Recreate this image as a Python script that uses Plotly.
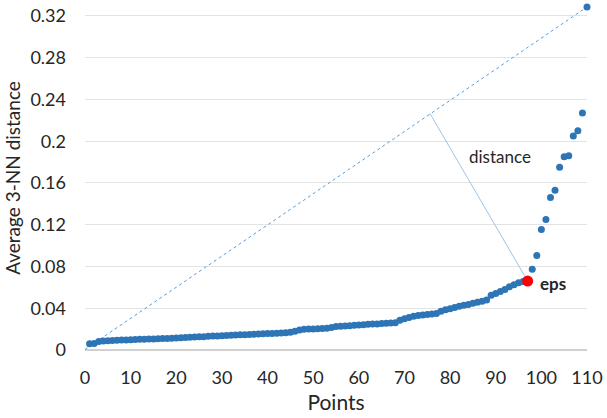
import plotly.graph_objects as go

points = list(range(1, 111))
avg_3nn = [
    0.0060, 0.0062, 0.0082, 0.0086, 0.0089, 0.0091, 0.0093, 0.0095, 0.0096, 0.0098,
    0.0100, 0.0102, 0.0103, 0.0105, 0.0106, 0.0108, 0.0110, 0.0111, 0.0113, 0.0115,
    0.0117, 0.0119, 0.0121, 0.0124, 0.0126, 0.0128, 0.0131, 0.0134, 0.0135, 0.0137,
    0.0139, 0.0141, 0.0143, 0.0145, 0.0147, 0.0149, 0.0151, 0.0153, 0.0155, 0.0157,
    0.0159, 0.0161, 0.0163, 0.0166, 0.0170, 0.0180, 0.0192, 0.0198, 0.0200, 0.0201,
    0.0203, 0.0205, 0.0208, 0.0216, 0.0225, 0.0228, 0.0230, 0.0232, 0.0236, 0.0240,
    0.0243, 0.0246, 0.0248, 0.0250, 0.0253, 0.0256, 0.0259, 0.0262, 0.0285, 0.0300,
    0.0312, 0.0324, 0.0330, 0.0336, 0.0340, 0.0344, 0.0350, 0.0370, 0.0385, 0.0395,
    0.0408, 0.0418, 0.0428, 0.0437, 0.0447, 0.0457, 0.0467, 0.0478, 0.0525, 0.0540,
    0.0560, 0.0580, 0.0605, 0.0625, 0.0645, 0.0655, 0.0660, 0.0774, 0.0905, 0.1155,
    0.1250, 0.1460, 0.1530, 0.1750, 0.1850, 0.1860, 0.2050, 0.2100, 0.2270, 0.3286,
]
eps_x = [97]
eps_y = [0.0660]
diag_x = [0, 110]
diag_y = [0.0005, 0.3286]
dist_x = [75.6, 97]
dist_y = [0.2265, 0.0660]
x_ticks = [0, 10, 20, 30, 40, 50, 60, 70, 80, 90, 100, 110]
y_ticks = [0, 0.04, 0.08, 0.12, 0.16, 0.2, 0.24, 0.28, 0.32]
y_tick_labels = ["0", "0.04", "0.08", "0.12", "0.16", "0.2", "0.24", "0.28", "0.32"]

FONT = "Lato"
TXT = "#262626"

fig = go.Figure()
fig.add_trace(go.Scatter(x=diag_x, y=diag_y, mode="lines",
                         line=dict(color="#5B9BD5", width=1, dash="dot"),
                         hoverinfo="skip", showlegend=False))
fig.add_trace(go.Scatter(x=dist_x, y=dist_y, mode="lines",
                         line=dict(color="#9DC3E6", width=1),
                         hoverinfo="skip", showlegend=False))
fig.add_trace(go.Scatter(x=points, y=avg_3nn, mode="markers",
                         marker=dict(color="#2E75B6", size=7),
                         showlegend=False, cliponaxis=False))
fig.add_trace(go.Scatter(x=eps_x, y=eps_y, mode="markers",
                         marker=dict(color="#FF0000", size=11),
                         showlegend=False, cliponaxis=False))

fig.add_annotation(x=91, y=0.185, text="distance", showarrow=False,
                   font=dict(family=FONT, size=17, color=TXT))
fig.add_annotation(x=97, y=0.064, xanchor="left", xshift=10, text="<b>eps</b>",
                   showarrow=False, font=dict(family=FONT, size=17, color=TXT))

fig.update_layout(
    width=607, height=418,
    margin=dict(l=85, r=16, t=4, b=68),
    paper_bgcolor="white", plot_bgcolor="white",
    font=dict(family=FONT, color=TXT),
    xaxis=dict(range=[0, 110], tickvals=x_ticks, showgrid=False, zeroline=False,
               showline=False, ticks="", tickfont=dict(size=18, color=TXT),
               ticklabelstandoff=15,
               title=dict(text="Points", font=dict(size=21, color=TXT), standoff=8)),
    yaxis=dict(range=[0, 0.3295], tickvals=y_ticks, ticktext=y_tick_labels,
               showgrid=True, gridcolor="#E3E3E3", gridwidth=1,
               zeroline=True, zerolinecolor="#D0D0D0", zerolinewidth=2,
               showline=False, ticks="", tickfont=dict(size=18, color=TXT),
               ticklabelstandoff=18,
               title=dict(text="Average 3-NN distance", font=dict(size=19, color=TXT), standoff=4)),
)

fig.write_html("out.html", config={"displayModeBar": False},
               post_script="document.body.style.margin='0';")
